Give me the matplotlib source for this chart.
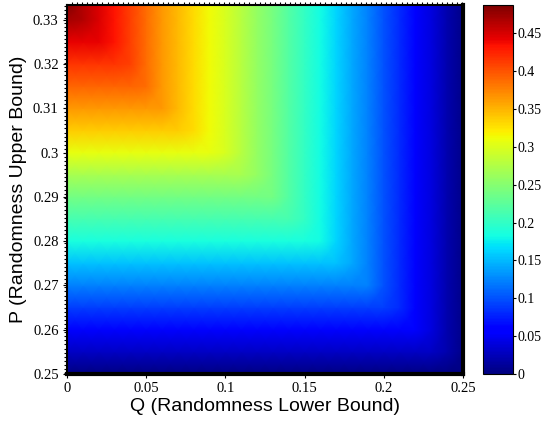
import numpy as np
import matplotlib
matplotlib.use('Agg')
import matplotlib.pyplot as plt
from matplotlib.ticker import MultipleLocator

# Values read along the left edge (Q = 0), as a function of P
p_points = [0.25, 0.255, 0.26, 0.265, 0.27, 0.275, 0.28, 0.285, 0.29,
            0.295, 0.30, 0.305, 0.31, 0.315, 0.32, 0.325, 0.33, 0.3333]
p_profile = [0.000, 0.030, 0.058, 0.090, 0.122, 0.153, 0.186, 0.212, 0.238,
             0.270, 0.308, 0.338, 0.365, 0.390, 0.416, 0.442, 0.470, 0.487]

# Values read along the top edge (P = 1/3), as a function of Q
q_points = [0.00, 0.01, 0.02, 0.03, 0.04, 0.05, 0.06, 0.07, 0.08, 0.09,
            0.10, 0.11, 0.12, 0.13, 0.14, 0.15, 0.16, 0.17, 0.18, 0.19,
            0.20, 0.21, 0.22, 0.23, 0.24, 0.25]
q_profile = [0.487, 0.465, 0.448, 0.432, 0.410, 0.388, 0.365, 0.348, 0.330, 0.313,
             0.298, 0.278, 0.258, 0.240, 0.220, 0.200, 0.182, 0.162, 0.142, 0.122,
             0.100, 0.080, 0.058, 0.040, 0.020, 0.005]

x_ticks = [0, 0.05, 0.1, 0.15, 0.2, 0.25]
x_labels = ['0', '0.05', '0.1', '0.15', '0.2', '0.25']
y_ticks = [0.25, 0.26, 0.27, 0.28, 0.29, 0.3, 0.31, 0.32, 0.33]
y_labels = ['0.25', '0.26', '0.27', '0.28', '0.29', '0.3', '0.31', '0.32', '0.33']
cb_ticks = [0, 0.05, 0.1, 0.15, 0.2, 0.25, 0.3, 0.35, 0.4, 0.45]
cb_labels = ['0', '0.05', '0.1', '0.15', '0.2', '0.25', '0.3', '0.35', '0.4', '0.45']

# surface = lower of the two edge profiles (L-shaped contours)
grid = np.minimum.outer(np.array(p_profile), np.array(q_profile))
QQ, PP = np.meshgrid(q_points, p_points)

fig = plt.figure(figsize=(5.41, 4.23), dpi=100)
ax = fig.add_axes([0.1238, 0.1158, 0.7320, 0.8722])
cax = fig.add_axes([0.8928, 0.1158, 0.0555, 0.8722])

mesh = ax.pcolormesh(QQ, PP, grid, cmap='jet', vmin=0, vmax=0.487, shading='gouraud')
ax.set_xlim(0, 0.25)
ax.set_ylim(0.25, 0.3333)

serif = 'Liberation Serif'
sans = 'Liberation Sans'
ax.set_xticks(x_ticks)
ax.set_xticklabels(x_labels, fontfamily=serif, fontsize=10.5)
ax.set_yticks(y_ticks)
ax.set_yticklabels(y_labels, fontfamily=serif, fontsize=10.5)
ax.xaxis.set_minor_locator(MultipleLocator(0.0032))
ax.yaxis.set_minor_locator(MultipleLocator(0.00092))
ax.tick_params(axis='both', which='major', direction='out', length=3, width=0.8, pad=3)
ax.tick_params(axis='x', which='minor', direction='out', length=2, width=0.8,
               top=True, bottom=False)
ax.tick_params(axis='y', which='minor', direction='out', length=2, width=0.8)
ax.tick_params(axis='x', which='major', top=False)

ax.set_xlabel('Q (Randomness Lower Bound)', fontfamily=sans, fontsize=14, labelpad=2)
ax.set_ylabel('P (Randomness Upper Bound)', fontfamily=sans, fontsize=14, labelpad=4)

for side in ['top', 'left']:
    ax.spines[side].set_linewidth(1.5)
for side in ['bottom', 'right']:
    ax.spines[side].set_linewidth(3)

cb = fig.colorbar(mesh, cax=cax)
cb.set_ticks(cb_ticks)
cb.set_ticklabels(cb_labels)
for t in cb.ax.get_yticklabels():
    t.set_fontfamily(serif)
    t.set_fontsize(10)
cb.ax.tick_params(direction='out', length=2, width=0.8, pad=1)
cb.outline.set_linewidth(0.8)

fig.savefig('out.png', dpi=100)
